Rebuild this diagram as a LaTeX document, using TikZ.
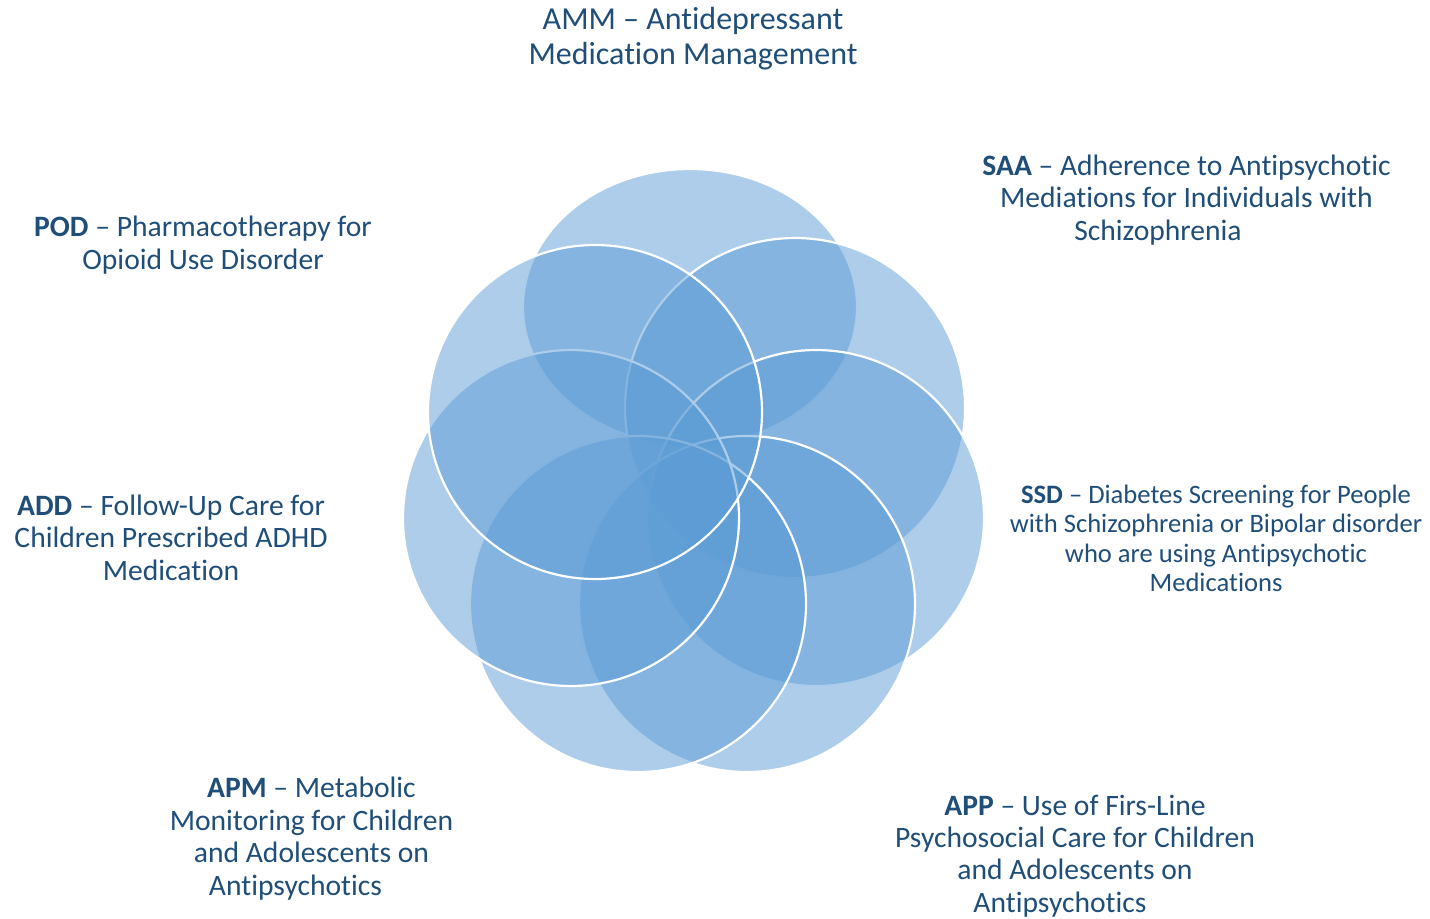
\documentclass[tikz,border=0pt]{standalone}
\usepackage{fontspec}
\setmainfont{Carlito}[Ligatures=NoCommon]
\definecolor{petalblue}{HTML}{5B9BD5}
\definecolor{textblue}{HTML}{1F4E79}

\begin{document}
\begin{tikzpicture}[x=0.5pt, y=-0.5pt,
	petal/.style={draw=white, line width=1.1pt, fill=petalblue, fill opacity=0.5},
	lbl/.style={text=textblue, align=center, anchor=base, inner sep=0pt,
		font=\fontsize{14.8pt}{16.2pt}\selectfont}]
	\useasboundingbox (0, 0) rectangle (1430, 918);

	\draw[petal] (690, 307) ellipse [x radius=83.5pt, y radius=69pt];
	\draw[petal] (795, 408) circle [radius=85pt];
	\draw[petal] (816, 518) circle [radius=84pt];
	\draw[petal] (747, 604) circle [radius=84pt];
	\draw[petal] (638, 604) circle [radius=84pt];
	\draw[petal] (571, 518) circle [radius=84pt];
	\draw[petal] (595, 412) circle [radius=83.5pt];

	\node[lbl, font=\fontsize{16pt}{17.5pt}\selectfont] (amm) at (693, 64)
		{AMM – Antidepressant\\Medication Management};
	\node[lbl] (saa) at (1186.5, 240)
		{\textbf{SAA} – Adherence to Antipsychotic\\Mediations for Individuals with\\Schizophrenia\hspace{28.5pt}\null};
	\node[lbl, font=\fontsize{13.3pt}{14.7pt}\selectfont] (ssd) at (1216, 591.7)
		{\textbf{SSD} – Diabetes Screening for People\\with Schizophrenia or Bipolar disorder\\who are using Antipsychotic\\Medications};
	\node[lbl] (app) at (1075, 912.3)
		{\textbf{APP} – Use of Firs-Line\\Psychosocial Care for Children\\and Adolescents on\\Antipsychotics\hspace{15pt}\null};
	\node[lbl] (apm) at (311.5, 895)
		{\textbf{APM} – Metabolic\\Monitoring for Children\\and Adolescents on\\Antipsychotics\hspace{16pt}\null};
	\node[lbl] (add) at (171, 580)
		{\textbf{ADD} – Follow-Up Care for\\Children Prescribed ADHD\\Medication};
	\node[lbl] (pod) at (203, 269.3)
		{\textbf{POD} – Pharmacotherapy for\\Opioid Use Disorder};
\end{tikzpicture}
\end{document}
